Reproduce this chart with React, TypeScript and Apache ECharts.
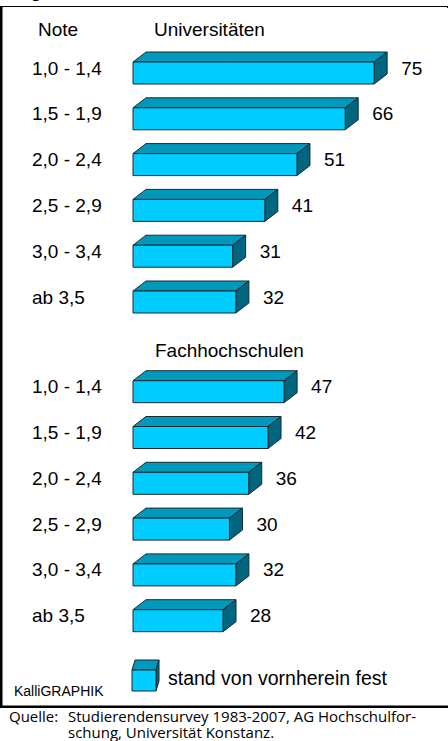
import React, { useEffect, useRef } from "react";
import * as echarts from "echarts";

const noteLabels = ["1,0 - 1,4", "1,5 - 1,9", "2,0 - 2,4", "2,5 - 2,9", "3,0 - 3,4", "ab 3,5"];
const uniValues = [75, 66, 51, 41, 31, 32];
const fhValues = [47, 42, 36, 30, 32, 28];
const headNote = "Note";
const headUni = "Universitäten";
const headFh = "Fachhochschulen";
const legendText = "stand von vornherein fest";
const topNote = "(Angaben in Prozent)";
const brand = "KalliGRAPHIK";
const sourceLabel = "Quelle:";
const sourceLines = ["Studierendensurvey 1983-2007, AG Hochschulfor-", "schung, Universität Konstanz."];

const FRONT = "#00CCFF";
const TOP = "#0099BB";
const SIDE = "#006680";
const EDGE = "#1a2a30";
const FONT = "Liberation Sans, Arial, sans-serif";
const FOOT = "Open Sans, sans-serif";

const DX = 13;
const DY = 10;

function renderBar(params: any, api: any) {
  const v = api.value(0);
  const idx = api.value(1);
  const p0 = api.coord([0, idx]);
  const p1 = api.coord([v, idx]);
  const x0 = p0[0];
  const x1 = p1[0];
  const yc = p0[1];
  const fTop = yc - 6;
  const fBot = yc + 16;
  return {
    type: "group",
    children: [
      {
        type: "polygon",
        shape: { points: [[x0, fTop], [x0 + DX, fTop - DY], [x1 + DX, fTop - DY], [x1, fTop]] },
        style: { fill: TOP, stroke: EDGE, lineWidth: 1 },
      },
      {
        type: "polygon",
        shape: { points: [[x1, fTop], [x1 + DX, fTop - DY], [x1 + DX, fBot - DY], [x1, fBot]] },
        style: { fill: SIDE, stroke: EDGE, lineWidth: 1 },
      },
      {
        type: "rect",
        shape: { x: x0, y: fTop, width: x1 - x0, height: fBot - fTop },
        style: { fill: FRONT, stroke: EDGE, lineWidth: 1 },
      },
      {
        type: "text",
        x: x1 + DX + 14,
        y: yc,
        style: {
          text: String(v),
          fill: "#000",
          font: `19px ${FONT}`,
          textAlign: "left",
          textVerticalAlign: "middle",
        },
      },
    ],
  };
}

export default function App() {
  const ref = useRef<HTMLDivElement>(null);
  useEffect(() => {
    if (!ref.current) return;
    const chart = echarts.init(ref.current, null, { renderer: "svg" });
    const gridW = 289.35;
    const yAxisCommon = {
      type: "category" as const,
      data: noteLabels,
      inverse: true,
      axisLine: { show: false },
      axisTick: { show: false },
      splitLine: { show: false },
      axisLabel: {
        align: "left" as const,
        margin: 101,
        fontSize: 19,
        color: "#000",
        fontFamily: FONT,
      },
    };
    const xAxisCommon = {
      type: "value" as const,
      min: 0,
      max: 90,
      show: false,
    };
    const txt = (x: number, y: number, text: string, size: number, family: string, extra: any = {}) => ({
      type: "text",
      x,
      y,
      style: {
        text,
        fill: "#000",
        font: `${size}px ${family}`,
        textAlign: "left",
        textVerticalAlign: "middle",
        ...extra,
      },
    });
    chart.setOption({
      animation: false,
      backgroundColor: "#fff",
      grid: [
        { left: 133, top: 45.1, width: gridW, height: 274.8 },
        { left: 133, top: 363.8, width: gridW, height: 274.8 },
      ],
      xAxis: [
        { ...xAxisCommon, gridIndex: 0 },
        { ...xAxisCommon, gridIndex: 1 },
      ],
      yAxis: [
        { ...yAxisCommon, gridIndex: 0 },
        { ...yAxisCommon, gridIndex: 1 },
      ],
      series: [
        {
          type: "custom",
          xAxisIndex: 0,
          yAxisIndex: 0,
          renderItem: renderBar,
          encode: { x: 0, y: 1 },
          data: uniValues.map((v, i) => [v, i]),
          clip: false,
        },
        {
          type: "custom",
          xAxisIndex: 1,
          yAxisIndex: 1,
          renderItem: renderBar,
          encode: { x: 0, y: 1 },
          data: fhValues.map((v, i) => [v, i]),
          clip: false,
        },
      ],
      graphic: [
        txt(8, -9, topNote, 15.5, FOOT),
        { type: "line", shape: { x1: 0, y1: 6.5, x2: 447.5, y2: 6.5 }, style: { stroke: "#000", lineWidth: 1 } },
        { type: "line", shape: { x1: 447.5, y1: 6, x2: 447.5, y2: 8 }, style: { stroke: "#000", lineWidth: 1 } },
        { type: "rect", shape: { x: 0, y: 6, width: 2.5, height: 702 }, style: { fill: "#000" } },
        { type: "rect", shape: { x: 0, y: 705.5, width: 448, height: 2.5 }, style: { fill: "#000" } },
        txt(38, 29, headNote, 19, FONT),
        txt(154, 29, headUni, 19, FONT),
        txt(155, 350, headFh, 19, FONT),
        {
          type: "polygon",
          shape: { points: [[132, 670], [135, 660], [159, 660], [156, 670]] },
          style: { fill: TOP, stroke: EDGE, lineWidth: 1 },
        },
        {
          type: "polygon",
          shape: { points: [[156, 670], [159, 660], [159, 681], [156, 691]] },
          style: { fill: SIDE, stroke: EDGE, lineWidth: 1 },
        },
        {
          type: "rect",
          shape: { x: 132, y: 670, width: 24, height: 21 },
          style: { fill: FRONT, stroke: EDGE, lineWidth: 1 },
        },
        txt(168, 678, legendText, 19.5, FONT),
        txt(14, 691, brand, 14, FONT),
        txt(9, 716.3, sourceLabel, 15, FOOT),
        txt(68, 708.5, sourceLines.join("\n"), 15, FOOT, { textVerticalAlign: "top", lineHeight: 15.5 }),
      ],
    });
    return () => chart.dispose();
  }, []);
  return (
    <div
      ref={ref}
      style={{ position: "fixed", left: 0, top: 0, width: 448, height: 741 }}
    />
  );
}
